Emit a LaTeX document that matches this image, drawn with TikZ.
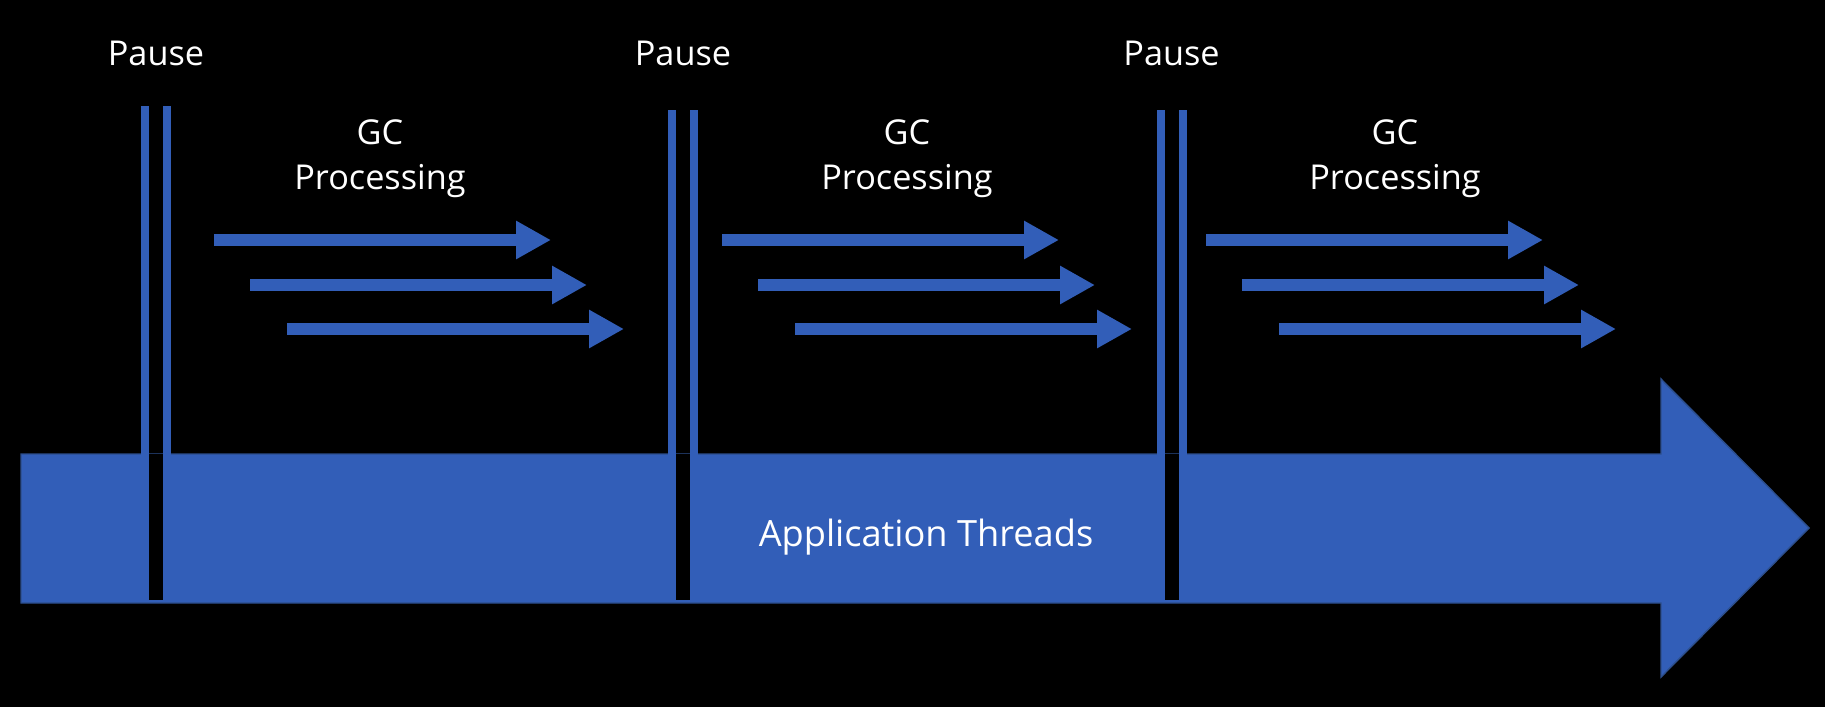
\documentclass[tikz,border=0pt]{standalone}
\usepackage{fontspec}
\setmainfont{Open Sans}
\usetikzlibrary{arrows.meta}
\definecolor{threadblue}{RGB}{50,94,184}
\definecolor{threadedge}{RGB}{44,78,140}
\tikzset{
  lbl/.style={text=white, font=\fontsize{19.5}{25.5}\selectfont, inner sep=0pt},
  gcarrow/.style={draw=threadblue, line width=6.8pt, -{Triangle[length=19.8pt,width=20.4pt]}},
}

\begin{document}
\begin{tikzpicture}[x=0.02cm, y=-0.02cm]
		%%%%% START %%%%%
		
		\fill[black] (0,0) rectangle (1825,707);
		\useasboundingbox (0,0) rectangle (1825,707);
		
		\draw[fill=threadblue, draw=threadedge, line width=0.8pt] (21,454) -- (1661,454) -- (1661,379) -- (1809,528) -- (1661,677) -- (1661,603) -- (21,603) -- cycle;
		\node[lbl, font=\fontsize{20.6}{25}\selectfont, anchor=base] (app) at (926,546) {Application Threads};
		
		\foreach \p/\t/\a/\g [count=\i] in {156/106/214/380, 683/110/722/907, 1171.5/110/1206/1395}{
			\fill[threadblue] (\p-15,\t) rectangle (\p-7,456);
			\fill[threadblue] (\p+7,\t) rectangle (\p+15,456);
			\fill[black] (\p-7,454) rectangle (\p+7,600);
			\node[lbl, anchor=base] (pause\i) at (\p,65) {Pause};
			
			\node[lbl, align=center, anchor=base] (gc\i) at (\g,189) {GC\\Processing};
			\draw[gcarrow] (\a,240) -- ++(337,0);
			\draw[gcarrow] (\a+36,285) -- ++(337,0);
			\draw[gcarrow] (\a+73,329) -- ++(337,0);
		}
		
		%%%%% END %%%%%
	\end{tikzpicture}
\end{document}
